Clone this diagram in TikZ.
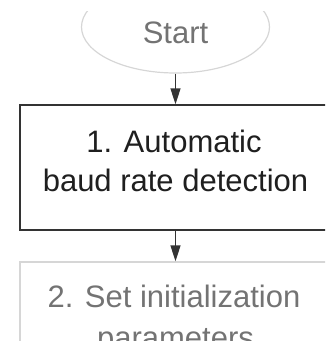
\documentclass[tikz,border=0pt]{standalone}
\usepackage{fontspec}
\setmainfont{Liberation Sans}
\usetikzlibrary{shapes.geometric,arrows.meta}

\definecolor{activeline}{gray}{0.2}
\definecolor{activetext}{gray}{0.12}
\definecolor{fadedline}{gray}{0.84}
\definecolor{fadedtext}{gray}{0.45}

\tikzset{
  x=1pt, y=1pt,
  lab/.style={inner sep=0pt, anchor=base, font=\fontsize{31}{39}\selectfont},
  stepbox/.style={draw, rectangle, line width=1.4pt, minimum width=311pt, minimum height=125pt, inner sep=0pt},
  flow/.style={draw=activeline, line width=1.4pt, -{Triangle[length=16pt, width=10pt]}}
}

\begin{document}
\begin{tikzpicture}
  \useasboundingbox (0,0) rectangle (325,-341);
  \clip (0,0) rectangle (325,-341);

  % terminal node, its upper part hidden
  \begin{scope}
    \clip (0,-11) rectangle (325,-341);
    \node[ellipse, draw=fadedline, line width=1.2pt, minimum width=188pt, minimum height=92pt, inner sep=0pt] (start) at (175.5,-27) {};
  \end{scope}
  \node[lab, text=fadedtext] (startlabel) at (175.5,-43) {Start};

  % step 1 (active)
  \node[stepbox, draw=activeline] (s1) at (175.5,-167.5) {};
  \node[lab, text=activetext] (s1a) at (174,-152) {1. Automatic};
  \node[lab, text=activetext] (s1b) at (175.5,-191) {baud rate detection};

  % step 2 (faded)
  \node[stepbox, draw=fadedline] (s2) at (175.5,-324.5) {};
  \node[lab, text=fadedtext] (s2a) at (174,-307) {2. Set initialization};
  \node[lab, text=fadedtext] (s2b) at (175.5,-348) {parameters};

  % connectors
  \draw[flow] (start.south) -- (s1.north);
  \draw[flow] (s1.south) -- (s2.north);
\end{tikzpicture}
\end{document}
